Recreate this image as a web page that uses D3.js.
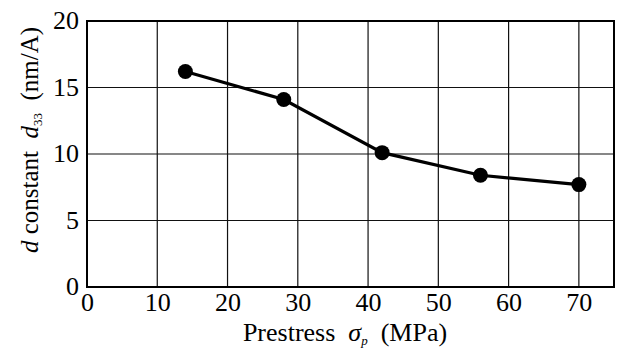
<!DOCTYPE html>
<html lang="en">
<head>
<meta charset="UTF-8">
<title>d33 vs prestress</title>
<script src="https://cdn.jsdelivr.net/npm/d3@7"></script>
<style>
  body { margin: 0; background: #fff; }
  svg { display: block; }
  .grid line { stroke: #111; stroke-width: 1.2; }
</style>
</head>
<body>
<div id="chart"></div>
<script>
  var w = 624, h = 351;
  var margin = {top: 21, right: 10, bottom: 64, left: 87};
  var serif = "'Liberation Serif', 'Times New Roman', Times, serif";
  var sp = "\u00a0";

  // data
  var prestress = [14, 28, 42, 56, 70];
  var d33 = [16.2, 14.1, 10.1, 8.4, 7.7];
  var xTicks = [0, 10, 20, 30, 40, 50, 60, 70];
  var yTicks = [0, 5, 10, 15, 20];

  var svg = d3.select("#chart").append("svg")
    .attr("width", w).attr("height", h)
    .attr("font-family", serif);

  var x = d3.scaleLinear().domain([0, 75]).range([margin.left, w - margin.right]);
  var y = d3.scaleLinear().domain([0, 20]).range([h - margin.bottom, margin.top]);

  // grid
  var grid = svg.append("g").attr("class", "grid");
  grid.selectAll(".vx").data(xTicks.slice(1)).enter().append("line")
    .attr("x1", d => x(d)).attr("x2", d => x(d))
    .attr("y1", y(0)).attr("y2", y(20));
  grid.selectAll(".hy").data(yTicks.slice(1, -1)).enter().append("line")
    .attr("x1", x(0)).attr("x2", x(75))
    .attr("y1", d => y(d)).attr("y2", d => y(d));

  // frame
  svg.append("rect")
    .attr("x", x(0)).attr("y", y(20))
    .attr("width", x(75) - x(0)).attr("height", y(0) - y(20))
    .attr("fill", "none").attr("stroke", "#000").attr("stroke-width", 2);

  var xAxis = svg.append("g")
    .attr("transform", "translate(0," + y(0) + ")")
    .call(d3.axisBottom(x).tickValues(xTicks).tickSize(0).tickPadding(6))
    .attr("font-family", serif).attr("font-size", 26);
  xAxis.select(".domain").remove();

  var yAxis = svg.append("g")
    .attr("transform", "translate(" + (x(0) - 2) + ",0)")
    .call(d3.axisLeft(y).tickValues(yTicks).tickSize(0).tickPadding(6))
    .attr("font-family", serif).attr("font-size", 26);
  yAxis.select(".domain").remove();
  yAxis.selectAll("text").attr("dy", "0.3em");

  // line + markers
  var pts = prestress.map((p, i) => [p, d33[i]]);
  var line = d3.line().x(d => x(d[0])).y(d => y(d[1]));
  svg.append("path")
    .attr("d", line(pts))
    .attr("fill", "none").attr("stroke", "#000").attr("stroke-width", 3.2);
  svg.selectAll(".dot").data(pts).enter().append("circle")
    .attr("cx", d => x(d[0])).attr("cy", d => y(d[1]))
    .attr("r", 7.5).attr("fill", "#000");

  // x title
  var xt = svg.append("text")
    .attr("x", 345).attr("y", 341)
    .attr("text-anchor", "middle")
    .attr("font-size", 26);
  xt.append("tspan").text("Prestress" + sp + sp);
  xt.append("tspan").attr("font-style", "italic").text("σ");
  xt.append("tspan").attr("dy", 4).attr("font-size", 13).attr("font-style", "italic").text("p");
  xt.append("tspan").attr("dy", -4).text(sp + sp + "(MPa)");

  // y title
  var yt = svg.append("text")
    .attr("transform", "translate(38,140) rotate(-90)")
    .attr("text-anchor", "middle")
    .attr("font-size", 25);
  yt.append("tspan").attr("font-style", "italic").text("d");
  yt.append("tspan").text(sp + "constant" + sp + sp);
  yt.append("tspan").attr("font-style", "italic").text("d");
  yt.append("tspan").attr("dy", 4).attr("font-size", 13).text("33");
  yt.append("tspan").attr("dy", -4).text(sp + sp + "(nm/A)");
</script>
</body>
</html>
